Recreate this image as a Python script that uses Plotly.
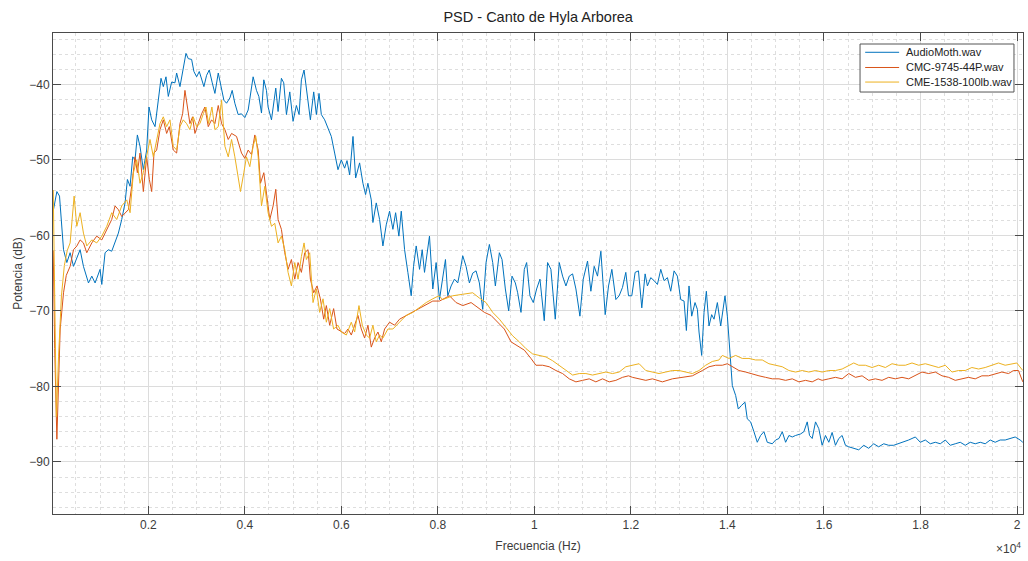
import plotly.graph_objects as go

# Power spectral density of three recordings of a Hyla arborea call.
# Each series: (frequency in Hz, power in dB)
audiomoth = [
    (35, -56.6), (105, -54.2), (160, -54.8), (243, -61.9), (312, -63.6), (380, -62.3), (450, -64.1),
    (587, -61.9), (656, -64.1), (760, -66.3), (829, -65.4), (897, -66.3), (1001, -64.5), (1036, -66.5),
    (1104, -62.3), (1173, -61.9), (1242, -62.1), (1311, -60.8), (1380, -59.7), (1449, -57.9),
    (1518, -55.7), (1567, -52.6), (1622, -53.5), (1677, -49.6), (1725, -50.0), (1773, -46.7),
    (1828, -48.2), (1897, -51.3), (1966, -48.7), (2014, -43.0), (2070, -44.7), (2139, -45.6),
    (2207, -41.8), (2263, -39.2), (2311, -40.3), (2366, -39.0), (2414, -41.6), (2483, -39.7),
    (2552, -39.8), (2587, -38.5), (2656, -40.3), (2724, -38.1), (2780, -35.9), (2828, -36.6),
    (2897, -36.7), (2945, -38.3), (3001, -39.0), (3056, -38.3), (3104, -39.4), (3152, -40.3),
    (3208, -38.8), (3263, -38.1), (3325, -39.8), (3380, -41.2), (3449, -38.5), (3497, -39.8),
    (3566, -42.1), (3621, -42.5), (3690, -41.8), (3738, -40.8), (3793, -42.5), (3862, -44.0),
    (3931, -43.9), (4000, -44.4), (4069, -43.4), (4172, -39.0), (4241, -40.8), (4290, -41.6),
    (4345, -43.8), (4393, -39.4), (4448, -40.8), (4482, -43.0), (4552, -44.7), (4641, -40.5),
    (4689, -43.6), (4758, -39.2), (4806, -39.8), (4862, -44.0), (4931, -41.0), (4999, -44.9),
    (5068, -42.8), (5124, -44.0), (5172, -39.4), (5227, -38.1), (5275, -40.8), (5358, -44.7),
    (5427, -41.0), (5482, -44.0), (5537, -41.2), (5585, -44.0), (5654, -44.7), (5723, -45.8),
    (5792, -46.9), (5861, -49.1), (5930, -51.3), (5999, -50.0), (6068, -51.1), (6117, -50.1),
    (6172, -52.0), (6241, -46.9), (6296, -52.4), (6378, -50.4), (6447, -53.1), (6502, -54.6),
    (6550, -53.1), (6620, -55.3), (6654, -58.3), (6723, -55.7), (6792, -57.9), (6861, -61.4),
    (6930, -58.6), (6999, -56.8), (7068, -59.2), (7124, -57.0), (7192, -60.1), (7241, -56.8),
    (7310, -61.9), (7378, -64.9), (7447, -68.0), (7496, -64.1), (7551, -61.4), (7620, -64.5),
    (7675, -61.9), (7723, -64.9), (7826, -60.1), (7895, -67.1), (7964, -63.6), (8033, -68.5),
    (8088, -66.3), (8157, -63.2), (8205, -68.0), (8274, -66.7), (8343, -65.8), (8412, -66.3),
    (8467, -64.5), (8515, -62.7), (8584, -64.1), (8653, -66.3), (8722, -65.0), (8791, -64.7),
    (8860, -66.3), (8929, -69.8), (8998, -63.6), (9067, -61.2), (9136, -63.6), (9191, -66.7),
    (9274, -62.3), (9329, -63.2), (9398, -67.1), (9467, -70.0), (9536, -65.4), (9605, -66.3),
    (9653, -67.6), (9722, -70.2), (9791, -64.5), (9839, -63.6), (9908, -68.0), (9977, -68.9),
    (10046, -67.1), (10115, -65.8), (10204, -71.3), (10273, -63.6), (10342, -64.5), (10432, -71.1),
    (10515, -63.6), (10584, -65.4), (10653, -66.7), (10722, -65.4), (10791, -65.1), (10860, -67.1),
    (10943, -70.7), (11012, -65.8), (11101, -63.4), (11170, -67.4), (11239, -64.1), (11308, -65.4),
    (11377, -62.1), (11467, -70.5), (11536, -66.7), (11605, -64.5), (11688, -68.5), (11756, -68.0),
    (11825, -66.9), (11894, -64.9), (11950, -68.0), (12018, -68.0), (12087, -64.9), (12156, -64.7),
    (12225, -69.6), (12294, -65.1), (12342, -66.7), (12411, -65.6), (12480, -66.0), (12549, -66.5),
    (12618, -64.5), (12687, -66.0), (12756, -65.6), (12825, -67.4), (12894, -64.7), (12963, -65.4),
    (13032, -68.5), (13101, -68.7), (13149, -72.6), (13204, -66.7), (13259, -70.7), (13328, -68.9),
    (13377, -69.8), (13411, -72.8), (13466, -75.9), (13515, -70.2), (13563, -67.4), (13618, -72.0),
    (13673, -70.5), (13722, -71.1), (13791, -68.9), (13860, -72.0), (13949, -68.0), (13998, -70.7),
    (14053, -75.6), (14101, -79.9), (14170, -81.2), (14225, -83.0), (14294, -82.5), (14363, -82.1),
    (14411, -84.3), (14480, -84.7), (14549, -86.0), (14618, -87.4), (14687, -86.5), (14756, -86.0),
    (14825, -87.4), (14929, -87.6), (14998, -87.1), (15067, -86.9), (15136, -86.0), (15205, -87.4),
    (15274, -86.5), (15343, -86.7), (15412, -86.5), (15515, -86.3), (15584, -86.0), (15653, -84.7),
    (15701, -86.5), (15756, -86.9), (15825, -84.7), (15893, -85.6), (15962, -87.8), (16031, -86.5),
    (16100, -87.4), (16169, -86.1), (16238, -87.8), (16307, -86.9), (16376, -86.5), (16445, -87.8),
    (16514, -88.0), (16617, -88.2), (16720, -88.4), (16824, -87.8), (16927, -88.2), (17031, -87.6),
    (17134, -88.0), (17238, -87.6), (17341, -87.8), (17445, -87.8), (17548, -87.6), (17652, -87.4),
    (17755, -87.1), (17893, -86.7), (17996, -87.4), (18100, -87.1), (18203, -87.6), (18307, -87.4),
    (18410, -87.6), (18514, -87.1), (18617, -87.8), (18720, -87.6), (18824, -87.4), (18927, -87.8),
    (19031, -87.4), (19134, -87.6), (19238, -87.4), (19341, -87.6), (19445, -87.1), (19548, -87.4),
    (19651, -87.1), (19755, -87.1), (19858, -86.9), (19962, -86.7), (20065, -87.1), (20120, -87.4),
]

cmc_9745 = [
    (30, -62.0), (60, -75.0), (105, -87.0), (140, -80.0), (174, -72.4), (243, -67.6), (300, -65.3),
    (380, -64.1), (450, -61.9), (520, -61.4), (587, -60.6), (656, -61.0), (725, -62.3), (829, -61.0),
    (931, -60.1), (1036, -60.6), (1139, -59.2), (1242, -57.9), (1311, -56.1), (1380, -56.6),
    (1449, -57.5), (1518, -57.0), (1587, -56.6), (1656, -53.5), (1725, -49.6), (1773, -51.7),
    (1828, -49.1), (1897, -54.2), (1966, -49.6), (2021, -52.6), (2070, -54.2), (2118, -49.1),
    (2173, -48.7), (2242, -46.0), (2311, -44.7), (2380, -46.5), (2435, -45.6), (2517, -48.7),
    (2587, -49.1), (2656, -45.2), (2711, -43.9), (2759, -40.8), (2807, -43.0), (2862, -45.2),
    (2917, -44.3), (2966, -46.5), (3035, -45.2), (3104, -43.9), (3173, -43.0), (3242, -45.6),
    (3311, -44.7), (3380, -45.2), (3449, -42.8), (3518, -45.2), (3587, -46.0), (3656, -47.3),
    (3725, -46.5), (3828, -46.9), (3931, -49.1), (4000, -49.8), (4069, -48.7), (4138, -49.3),
    (4207, -46.7), (4276, -48.7), (4324, -53.1), (4393, -51.7), (4448, -54.4), (4517, -57.9),
    (4586, -56.1), (4641, -53.9), (4689, -57.9), (4758, -59.2), (4827, -62.3), (4896, -64.5),
    (4965, -63.2), (5034, -65.8), (5103, -63.6), (5172, -64.9), (5241, -62.3), (5310, -61.9),
    (5358, -65.8), (5427, -67.6), (5496, -66.7), (5565, -68.4), (5634, -71.1), (5689, -69.3),
    (5758, -71.9), (5840, -69.7), (5909, -72.4), (5999, -72.8), (6068, -73.0), (6137, -72.4),
    (6206, -73.2), (6275, -71.9), (6344, -70.6), (6413, -72.4), (6482, -73.6), (6551, -71.9),
    (6620, -74.8), (6689, -73.6), (6758, -72.8), (6827, -74.1), (6896, -72.4), (6999, -71.5),
    (7103, -71.9), (7206, -71.1), (7344, -70.6), (7482, -70.2), (7620, -69.7), (7758, -69.1),
    (7895, -68.7), (8033, -68.7), (8240, -68.0), (8377, -68.9), (8515, -69.3), (8688, -68.9),
    (8826, -69.5), (8964, -70.2), (9101, -70.6), (9239, -71.5), (9377, -72.4), (9515, -74.1),
    (9653, -74.6), (9791, -75.2), (9929, -76.3), (10032, -77.2), (10170, -77.2), (10308, -77.4),
    (10446, -77.9), (10584, -78.3), (10722, -79.0), (10860, -79.4), (10998, -79.2), (11136, -79.0),
    (11274, -79.4), (11412, -79.0), (11550, -79.4), (11688, -79.2), (11826, -78.8), (11950, -78.6),
    (12032, -78.8), (12170, -79.0), (12308, -79.2), (12445, -79.0), (12652, -79.4), (12859, -79.0),
    (13066, -78.8), (13273, -78.6), (13480, -77.9), (13618, -77.4), (13756, -77.2), (13894, -77.2),
    (13998, -77.0), (14101, -77.4), (14239, -77.9), (14377, -78.1), (14515, -78.3), (14653, -78.6),
    (14790, -78.8), (14929, -79.0), (15067, -79.0), (15205, -79.2), (15343, -79.0), (15481, -79.4),
    (15619, -79.2), (15756, -79.4), (15880, -79.0), (15962, -79.2), (16100, -79.0), (16238, -78.8),
    (16376, -79.0), (16514, -78.3), (16652, -78.8), (16790, -78.6), (16927, -79.2), (17065, -79.0),
    (17203, -79.2), (17341, -78.8), (17479, -79.0), (17617, -78.8), (17755, -79.0), (17893, -78.6),
    (18031, -78.1), (18169, -78.3), (18307, -78.1), (18445, -78.6), (18583, -78.8), (18720, -79.2),
    (18858, -79.0), (18996, -78.8), (19134, -79.0), (19272, -78.6), (19410, -78.6), (19548, -78.3),
    (19686, -78.1), (19824, -78.3), (19927, -77.9), (20030, -77.9), (20120, -79.4),
]

cme_1538 = [
    (30, -54.0), (60, -70.0), (95, -84.0), (140, -76.0), (200, -68.0), (260, -64.0), (320, -62.0),
    (380, -61.0), (430, -57.0), (463, -54.8), (518, -58.8), (587, -57.0), (656, -59.7), (725, -61.4),
    (829, -60.6), (931, -61.0), (1036, -60.1), (1139, -58.8), (1242, -57.0), (1345, -57.9),
    (1449, -56.1), (1553, -55.3), (1622, -57.0), (1691, -51.7), (1760, -50.0), (1828, -53.1),
    (1897, -51.7), (1966, -49.6), (2035, -47.3), (2104, -49.6), (2173, -47.3), (2242, -45.2),
    (2311, -44.3), (2380, -45.6), (2449, -44.7), (2517, -48.2), (2587, -48.7), (2656, -45.6),
    (2724, -44.7), (2793, -45.2), (2862, -46.0), (2931, -44.3), (3001, -45.6), (3069, -45.2),
    (3139, -43.9), (3194, -43.0), (3249, -45.2), (3318, -43.0), (3380, -46.0), (3449, -45.6),
    (3518, -42.1), (3587, -48.2), (3656, -49.6), (3725, -47.3), (3793, -49.6), (3862, -52.6),
    (3910, -54.2), (3979, -51.7), (4034, -49.6), (4103, -50.9), (4172, -48.2), (4227, -46.9),
    (4276, -49.6), (4345, -56.1), (4414, -53.5), (4482, -57.0), (4552, -58.8), (4620, -58.4),
    (4689, -61.0), (4758, -60.1), (4827, -61.9), (4896, -64.9), (4965, -66.7), (5034, -63.6),
    (5103, -65.8), (5172, -62.8), (5227, -61.0), (5275, -63.2), (5344, -62.3), (5413, -68.9),
    (5482, -67.1), (5551, -70.2), (5620, -68.4), (5689, -71.5), (5758, -69.7), (5840, -72.4),
    (5930, -71.9), (5999, -72.8), (6103, -73.2), (6206, -71.5), (6275, -72.8), (6365, -69.3),
    (6434, -71.9), (6517, -73.2), (6586, -73.6), (6654, -71.9), (6723, -74.1), (6792, -73.2),
    (6861, -73.6), (6965, -72.4), (7068, -72.4), (7206, -71.5), (7344, -70.6), (7482, -70.2),
    (7620, -69.5), (7758, -68.9), (7895, -68.4), (8019, -68.0), (8102, -68.5), (8308, -68.0),
    (8515, -67.8), (8722, -67.6), (8860, -68.3), (8998, -68.9), (9136, -70.2), (9274, -71.1),
    (9412, -72.2), (9549, -73.3), (9687, -74.1), (9825, -75.0), (9963, -75.7), (10101, -75.9),
    (10239, -76.1), (10377, -76.6), (10515, -77.2), (10653, -77.9), (10791, -78.5), (10929, -78.3),
    (11067, -78.3), (11205, -78.5), (11343, -78.3), (11481, -78.1), (11619, -78.3), (11757, -78.1),
    (11894, -77.4), (12032, -77.2), (12170, -77.0), (12308, -77.9), (12445, -78.1), (12583, -78.3),
    (12721, -78.1), (12859, -77.9), (12997, -77.9), (13135, -78.1), (13273, -78.3), (13411, -77.9),
    (13549, -77.2), (13687, -76.7), (13825, -76.5), (13894, -75.9), (14032, -76.3), (14170, -75.9),
    (14308, -76.3), (14446, -76.3), (14583, -76.5), (14721, -76.5), (14859, -77.0), (14997, -77.2),
    (15136, -77.4), (15274, -77.9), (15412, -78.1), (15550, -77.9), (15687, -78.1), (15825, -77.9),
    (15962, -78.1), (16100, -77.9), (16238, -77.9), (16376, -77.7), (16514, -77.2), (16617, -76.9),
    (16720, -77.2), (16858, -77.2), (16996, -77.5), (17134, -77.2), (17272, -77.5), (17410, -77.0),
    (17548, -77.2), (17686, -77.2), (17824, -76.9), (17962, -77.2), (18100, -77.0), (18238, -77.2),
    (18376, -77.5), (18514, -77.2), (18652, -78.1), (18789, -77.9), (18927, -77.9), (19065, -77.5),
    (19203, -77.7), (19341, -77.5), (19479, -77.2), (19617, -76.9), (19755, -77.2), (19893, -77.0),
    (19996, -76.9), (20120, -77.9),
]

series_names = ["AudioMoth.wav", "CMC-9745-44P.wav", "CME-1538-100lb.wav"]
series_colors = ["#0072BD", "#D95319", "#EDB120"]
x_tick_vals = [2000, 4000, 6000, 8000, 10000, 12000, 14000, 16000, 18000, 20000]
x_tick_text = ["0.2", "0.4", "0.6", "0.8", "1", "1.2", "1.4", "1.6", "1.8", "2"]
y_tick_vals = [-90, -80, -70, -60, -50, -40]

FONT = "Liberation Sans, Arial, Helvetica, sans-serif"
AXIS_COLOR = "#4a4a4a"
TEXT_COLOR = "#3c3c3c"

fig = go.Figure()
for name, color, data in zip(series_names, series_colors, [audiomoth, cmc_9745, cme_1538]):
    f, p = zip(*data)
    fig.add_trace(go.Scatter(x=list(f), y=list(p), mode="lines", name=name,
                             line=dict(color=color, width=1), showlegend=False))

axis_common = dict(
    showline=True, linecolor=AXIS_COLOR, linewidth=1, mirror="ticks",
    ticks="inside", ticklen=8, tickcolor=AXIS_COLOR, tickwidth=1,
    showgrid=True, gridcolor="#dcdcdc", gridwidth=1, zeroline=False,
    tickfont=dict(family=FONT, size=12, color=TEXT_COLOR),
)

fig.update_xaxes(
    **axis_common,
    range=[25, 20124],
    tickvals=x_tick_vals, ticktext=x_tick_text,
    minor=dict(dtick=500, tick0=0, showgrid=True, gridcolor="#dedede", griddash="dot", gridwidth=1),
    title=dict(text="Frecuencia (Hz)", font=dict(family=FONT, size=12, color=TEXT_COLOR), standoff=10),
)
fig.update_yaxes(
    **axis_common,
    range=[-96.9, -33.2],
    tickvals=y_tick_vals,
    minor=dict(dtick=2, tick0=0, showgrid=True, gridcolor="#dedede", griddash="dot", gridwidth=1),
    title=dict(text="Potencia (dB)", font=dict(family=FONT, size=12, color=TEXT_COLOR), standoff=4),
)

# Boxed legend in the upper-right corner of the axes (paper coordinates)
legend_box = dict(x0=0.8320, x1=0.9907, y0=0.8773, y1=0.9771)
legend_rows_y = [0.9599, 0.9283, 0.8980]
legend_line_x = (0.8373, 0.8723)
legend_text_x = 0.8774

shapes = [dict(type="rect", xref="paper", yref="paper", **legend_box,
               line=dict(color="#555555", width=1), fillcolor="white", layer="above")]
annotations = []
for name, color, ly in zip(series_names, series_colors, legend_rows_y):
    shapes.append(dict(type="line", xref="paper", yref="paper",
                       x0=legend_line_x[0], x1=legend_line_x[1], y0=ly, y1=ly,
                       line=dict(color=color, width=1), layer="above"))
    annotations.append(dict(text=name, xref="paper", yref="paper", x=legend_text_x, y=ly,
                            xanchor="left", yanchor="middle", showarrow=False,
                            font=dict(family=FONT, size=11, color="#222222")))

# Axis exponent for the frequency ticks
annotations.append(dict(text="\u00d710<sup>4</sup>", xref="paper", yref="paper",
                        x=1.0, y=-0.07, xanchor="right", yanchor="middle", showarrow=False,
                        font=dict(family=FONT, size=12, color=TEXT_COLOR)))

fig.update_layout(
    width=1028, height=561,
    margin=dict(l=53, r=5, t=33, b=47),
    paper_bgcolor="white", plot_bgcolor="white",
    font=dict(family=FONT, color=TEXT_COLOR),
    title=dict(text="PSD - Canto de Hyla Arborea", x=0.5235, xanchor="center",
               y=0.97, yanchor="middle", font=dict(family=FONT, size=14.5, color="#222222")),
    showlegend=False,
    shapes=shapes,
    annotations=annotations,
)

fig.write_html("out.html")
